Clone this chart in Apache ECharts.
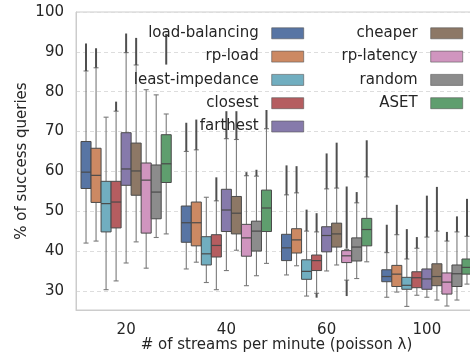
<!DOCTYPE html>
<html>
<head>
<meta charset="utf-8">
<script src="https://cdn.jsdelivr.net/npm/echarts@6/dist/echarts.min.js"></script>
<style>
  html, body { margin: 0; padding: 0; background: #ffffff; }
  #chart { width: 470px; height: 356px; }
</style>
</head>
<body>
<div id="chart"></div>
<script>
// Stream arrival rates (poisson lambda) on the x axis
const streamRates = ['20', '40', '60', '100'];

const methodNames = ['load-balancing', 'rp-load', 'least-impedance', 'closest', 'farthest',
                     'cheaper', 'rp-latency', 'random', 'ASET'];
const methodColors = ['#5875A4', '#CC8963', '#71AEC0', '#B55D60', '#867AAB',
                      '#8D7866', '#D095BF', '#8C8C8C', '#5F9E6E'];

// Box statistics per stream rate: [lower whisker, q1, median, q3, upper whisker]
const loadBalancing  = [[42.0, 55.7, 59.8, 67.5, 85.2], [35.5, 42.2, 47.1, 51.3, 65.0], [34.0, 37.6, 40.8, 44.2, 54.1], [28.4, 32.3, 33.6, 35.3, 39.6]];
const rpLoad         = [[42.5, 52.2, 59.0, 65.8, 86.0], [37.2, 41.3, 47.1, 52.3, 65.4], [36.3, 39.5, 42.8, 45.6, 54.6], [29.7, 31.1, 34.2, 36.4, 44.1]];
const leastImpedance = [[30.3, 44.8, 51.9, 57.5, 73.6], [32.1, 36.5, 39.3, 43.6, 53.5], [28.7, 32.9, 34.9, 37.8, 45.0], [26.1, 30.4, 31.4, 33.4, 38.0]];
const closest        = [[32.5, 45.8, 52.3, 57.5, 75.1], [30.3, 38.5, 41.4, 44.1, 52.6], [29.4, 35.1, 37.6, 39.0, 44.8], [28.9, 30.8, 33.3, 34.8, 40.7]];
const farthest       = [[37.0, 56.5, 60.6, 69.7, 89.8], [35.1, 44.9, 50.3, 55.5, 68.2], [35.0, 39.8, 43.9, 46.1, 55.6], [28.4, 30.4, 33.0, 35.5, 43.5]];
const cheaper        = [[42.3, 54.0, 60.1, 67.1, 86.7], [40.2, 44.3, 49.5, 53.7, 68.0], [36.5, 41.0, 44.3, 47.0, 55.8], [27.7, 31.3, 33.6, 36.8, 45.0]];
const rpLatency      = [[35.7, 44.5, 57.8, 62.1, 80.5], [31.3, 38.7, 43.3, 46.7, 58.9], [32.7, 37.1, 38.8, 40.1, 40.4], [26.2, 29.2, 32.2, 34.5, 42.5]];
const randomPick     = [[43.4, 48.1, 54.8, 61.6, 79.2], [33.8, 40.0, 45.0, 47.5, 58.8], [33.1, 37.5, 41.0, 43.3, 52.1], [27.7, 31.1, 34.3, 36.5, 44.8]];
const aset           = [[44.3, 57.2, 61.9, 69.2, 74.4], [36.9, 44.9, 50.8, 55.3, 70.7], [37.3, 41.3, 45.4, 48.2, 58.6], [31.7, 34.2, 35.9, 38.0, 43.7]];

// Spans covered by densely packed outliers, per stream rate: list of [from, to]
const loadBalancingOutliers  = [[[85.2, 92.1]], [[65.0, 72.2]], [[54.1, 61.5]], [[39.6, 46.6]]];
const rpLoadOutliers         = [[[86.0, 90.9]], [[65.4, 73.0]], [[54.6, 61.3]], [[44.1, 51.6]]];
const leastImpedanceOutliers = [[], [], [[45.0, 50.4]], [[38.0, 45.5]]];
const closestOutliers        = [[[75.1, 77.5]], [[52.6, 58.5]], [[28.3, 29.4], [44.8, 49.5]], [[40.7, 43.5]]];
const farthestOutliers       = [[[89.8, 94.6]], [[68.2, 75.1]], [[55.6, 64.5]], [[43.5, 53.9]]];
const cheaperOutliers        = [[[86.7, 93.5]], [[68.0, 75.1]], [[55.8, 67.2]], [[45.0, 56.1]]];
const rpLatencyOutliers      = [[], [[58.9, 59.8]], [[28.7, 32.7], [40.6, 56.2]], [[42.5, 44.8]]];
const randomPickOutliers     = [[], [[58.8, 60.4]], [[52.1, 54.8]], [[44.8, 48.7]]];
const asetOutliers           = [[[86.8, 94.5]], [[70.7, 75.4]], [[58.6, 67.8]], [[43.7, 53.1]]];

const boxStats = [loadBalancing, rpLoad, leastImpedance, closest, farthest, cheaper, rpLatency, randomPick, aset];
const outlierSpans = [loadBalancingOutliers, rpLoadOutliers, leastImpedanceOutliers, closestOutliers,
                      farthestOutliers, cheaperOutliers, rpLatencyOutliers, randomPickOutliers, asetOutliers];

const FONT = 'DejaVu Sans';
const TEXT = '#262626';
const EDGE = '#4a4a4a';

function boxRenderer(k) {
  const n = methodNames.length;
  return function (params, api) {
    const gi = api.value(0);
    const band = api.size([1, 0])[0];
    const w = band * 0.1;
    const cx = api.coord([gi, 0])[0] + (k - (n - 1) / 2) * w;
    const Y = v => api.coord([gi, v])[1];
    const lo = api.value(1), q1 = api.value(2), med = api.value(3), q3 = api.value(4), hi = api.value(5);
    const cap = w * 0.25;
    const whisk = { stroke: '#7a7a7a', lineWidth: 1.1 };
    const children = [
      { type: 'line', shape: { x1: cx, y1: Y(q3), x2: cx, y2: Y(hi) }, style: whisk },
      { type: 'line', shape: { x1: cx, y1: Y(q1), x2: cx, y2: Y(lo) }, style: whisk },
      { type: 'line', shape: { x1: cx - cap, y1: Y(hi), x2: cx + cap, y2: Y(hi) }, style: whisk },
      { type: 'line', shape: { x1: cx - cap, y1: Y(lo), x2: cx + cap, y2: Y(lo) }, style: whisk }
    ];
    outlierSpans[k][params.dataIndex].forEach(function (s) {
      children.push({ type: 'line', shape: { x1: cx, y1: Y(s[0]), x2: cx, y2: Y(s[1]) },
                      style: { stroke: '#4f4f4f', lineWidth: 2 } });
    });
    children.push({ type: 'rect', shape: { x: cx - w / 2, y: Y(q3), width: w, height: Y(q1) - Y(q3) },
                    style: { fill: methodColors[k], stroke: EDGE, lineWidth: 1 } });
    children.push({ type: 'line', shape: { x1: cx - w / 2, y1: Y(med), x2: cx + w / 2, y2: Y(med) },
                    style: { stroke: EDGE, lineWidth: 1.2 } });
    return { type: 'group', children: children };
  };
}

const series = methodNames.map(function (name, k) {
  return {
    type: 'custom',
    name: name,
    itemStyle: { color: methodColors[k] },
    renderItem: boxRenderer(k),
    encode: { x: 0, y: [1, 2, 3, 4, 5] },
    data: boxStats[k].map((row, gi) => [gi].concat(row))
  };
});

const legendBase = {
  orient: 'vertical',
  align: 'right',
  icon: 'rect',
  itemWidth: 32,
  itemHeight: 11,
  itemGap: 5.3,
  padding: 0,
  top: 24.3,
  selectedMode: false,
  itemStyle: { borderColor: '#555555', borderWidth: 0.6 },
  textStyle: { fontFamily: FONT, fontSize: 15, color: TEXT, lineHeight: 18, padding: [0, 8, 0, 0] }
};

const chart = echarts.init(document.getElementById('chart'), null, { renderer: 'canvas' });
chart.setOption({
  animation: false,
  backgroundColor: '#ffffff',
  grid: {
    left: 76, top: 12, right: -7, bottom: 46,
    outerBoundsMode: 'none', containLabel: false,
    show: true, borderColor: '#cccccc', borderWidth: 1
  },
  legend: [
    Object.assign({}, legendBase, { right: 166, data: methodNames.slice(0, 5) }),
    Object.assign({}, legendBase, { right: 7, data: methodNames.slice(5) })
  ],
  xAxis: {
    type: 'category',
    data: streamRates,
    boundaryGap: true,
    axisLine: { lineStyle: { color: '#cccccc' } },
    axisTick: { show: false },
    splitLine: { show: false },
    axisLabel: { fontFamily: FONT, fontSize: 15, color: TEXT, margin: 13 },
    name: '# of streams per minute (poisson λ)',
    nameLocation: 'middle',
    nameGap: 27.5,
    nameMoveOverlap: false,
    nameTextStyle: { fontFamily: FONT, fontSize: 15, color: TEXT }
  },
  yAxis: {
    type: 'value',
    min: 25.2,
    max: 100,
    splitNumber: 8,
    axisLine: { show: true, lineStyle: { color: '#cccccc' } },
    axisTick: { show: false },
    splitLine: { show: true, lineStyle: { color: '#dddddd', type: [4, 3], width: 1 } },
    axisLabel: { fontFamily: FONT, fontSize: 15, color: TEXT, margin: 12, showMinLabel: false },
    name: '% of success queries',
    nameLocation: 'middle',
    nameGap: 46,
    nameMoveOverlap: false,
    nameTextStyle: { fontFamily: FONT, fontSize: 15, color: TEXT }
  },
  series: series
});
</script>
</body>
</html>
